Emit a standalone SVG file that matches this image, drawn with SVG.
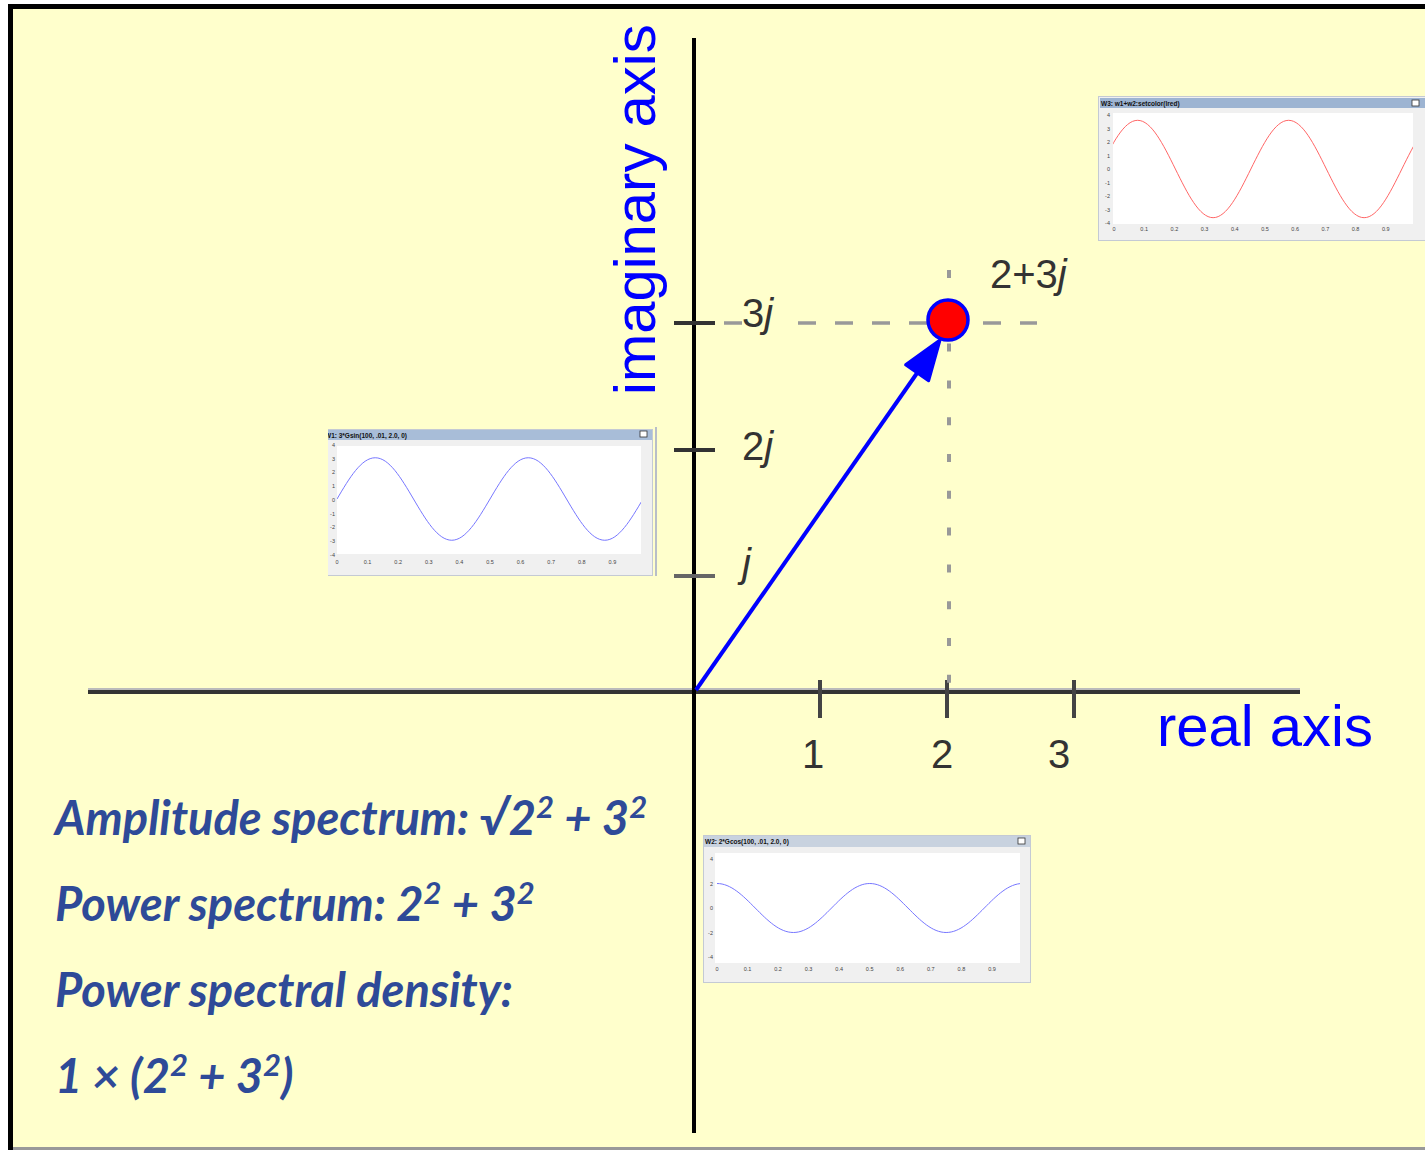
<svg xmlns="http://www.w3.org/2000/svg" width="1425" height="1150" viewBox="0 0 1425 1150">
<style>
.ax{fill:#333;font-family:"Liberation Sans",Arial,sans-serif;font-size:40px}
.blue{fill:#0000FF;font-family:"Liberation Sans",Arial,sans-serif;font-size:58px}
.eq{fill:#2E4A98;font-family:Lato,"Open Sans","DejaVu Sans",sans-serif;font-weight:bold;font-style:italic;font-size:47px}
.sup{font-size:31px}
.wt{font-family:"Liberation Sans",Arial,sans-serif;font-size:6.5px;font-weight:bold;fill:#111}
.tl{font-family:"Liberation Sans",Arial,sans-serif;font-size:5.5px;fill:#444}
.win{fill:#F0F0F0;stroke:#C4CAD4;stroke-width:1}
.plot{fill:#FFFFFF}
.tick{stroke:#444;stroke-width:4}
</style>
<defs>
<clipPath id="c3"><rect x="1113" y="113" width="300" height="111"/></clipPath>
<clipPath id="c1"><rect x="337" y="446" width="304" height="108"/></clipPath>
<clipPath id="c1w"><rect x="328" y="425" width="330" height="155"/></clipPath>
<clipPath id="c2"><rect x="715" y="853" width="305" height="110"/></clipPath>
</defs>
<rect x="0" y="0" width="1425" height="1150" fill="#FFFFFF"/>
<rect x="8" y="4" width="1417" height="1146" fill="#FFFFCC"/>
<rect x="8" y="4" width="1417" height="5" fill="#000"/>
<rect x="8" y="4" width="5" height="1146" fill="#000"/>
<rect x="13" y="1147" width="1412" height="3" fill="#999"/>

<g id="connectors">
<line x1="88" y1="689" x2="1300" y2="689" stroke="#BBB" stroke-width="2"/>
<line x1="88" y1="692" x2="1300" y2="692" stroke="#333" stroke-width="4"/>
<line x1="694" y1="38" x2="694" y2="1133" stroke="#000" stroke-width="4"/>
<line x1="820" y1="680" x2="820" y2="718" class="tick"/>
<line x1="947" y1="680" x2="947" y2="718" class="tick"/>
<line x1="1074" y1="680" x2="1074" y2="718" class="tick"/>
<line x1="674" y1="323" x2="715" y2="323" stroke="#333" stroke-width="4"/>
<line x1="674" y1="450" x2="715" y2="450" stroke="#333" stroke-width="4"/>
<line x1="674" y1="576" x2="715" y2="576" stroke="#666" stroke-width="4"/>
<line x1="724" y1="323" x2="742" y2="323" stroke="#999" stroke-width="3.5"/>
<line x1="798" y1="323" x2="1037" y2="323" stroke="#999" stroke-width="3.5" stroke-dasharray="18 19"/>
<line x1="949" y1="270" x2="949" y2="690" stroke="#999" stroke-width="4" stroke-dasharray="8 28.8"/>
<line x1="696" y1="690" x2="922" y2="366" stroke="#0000FF" stroke-width="4"/>
<polygon points="940,340 928.6,380.8 905.6,364.8" fill="#0000FF" stroke="#0000FF" stroke-width="3" stroke-linejoin="round"/>
</g>

<g id="point">
<circle cx="948" cy="320" r="20" fill="#FF0000" stroke="#0000FF" stroke-width="3.5"/>
</g>

<g id="labels">
<text class="blue" transform="translate(655,395) rotate(-90)">imaginary axis</text>
<text class="blue" x="1157" y="746">real axis</text>
<text class="ax" x="813" y="768" text-anchor="middle">1</text>
<text class="ax" x="942" y="768" text-anchor="middle">2</text>
<text class="ax" x="1059" y="768" text-anchor="middle">3</text>
<text class="ax" x="742" y="327">3<tspan font-style="italic">j</tspan></text>
<text class="ax" x="742" y="460">2<tspan font-style="italic">j</tspan></text>
<text class="ax" x="742" y="577" font-style="italic">j</text>
<text class="ax" x="990" y="288">2+3<tspan font-style="italic">j</tspan></text>
</g>

<g id="equations">
<text class="eq" x="55" y="835">Amplitude spectrum: √2<tspan class="sup" dy="-17">2</tspan><tspan dy="17"> + 3</tspan><tspan class="sup" dy="-17">2</tspan></text>
<text class="eq" x="55" y="921">Power spectrum: 2<tspan class="sup" dy="-17">2</tspan><tspan dy="17"> + 3</tspan><tspan class="sup" dy="-17">2</tspan></text>
<text class="eq" x="55" y="1007">Power spectral density:</text>
<text class="eq" x="55" y="1093">1 × (2<tspan class="sup" dy="-17">2</tspan><tspan dy="17"> + 3</tspan><tspan class="sup" dy="-17">2</tspan><tspan dy="17">)</tspan></text>
</g>

<g id="w3">
<rect class="win" x="1098.5" y="96.5" width="330" height="144"/>
<rect x="1100" y="98" width="325" height="10" fill="#9DB4D2"/>
<text class="wt" x="1101" y="105.5">W3: w1+w2:setcolor(lred)</text>
<rect x="1412" y="100" width="7" height="6" fill="#FFF" stroke="#333" stroke-width="0.8"/>
<rect class="plot" x="1113" y="113" width="300" height="111"/>
<g class="tl" text-anchor="end">
<text x="1110" y="117">4</text><text x="1110" y="130.5">3</text><text x="1110" y="144">2</text><text x="1110" y="157.5">1</text><text x="1110" y="171">0</text><text x="1110" y="184.5">-1</text><text x="1110" y="198">-2</text><text x="1110" y="211.5">-3</text><text x="1110" y="225">-4</text>
</g>
<g class="tl" text-anchor="middle">
<text x="1114" y="231">0</text><text x="1144.2" y="231">0.1</text><text x="1174.4" y="231">0.2</text><text x="1204.6" y="231">0.3</text><text x="1234.8" y="231">0.4</text><text x="1265" y="231">0.5</text><text x="1295.2" y="231">0.6</text><text x="1325.4" y="231">0.7</text><text x="1355.6" y="231">0.8</text><text x="1385.8" y="231">0.9</text>
</g>
<path clip-path="url(#c3)" fill="none" stroke="#FF6666" stroke-width="1" d="M1099.87,169 c12.30,-24.91 24.09,-48.68 37.75,-48.68 c13.66,0 25.45,23.77 37.75,48.68 c12.30,24.91 24.09,48.68 37.75,48.68 c13.66,0 25.45,-23.77 37.75,-48.68 c12.30,-24.91 24.09,-48.68 37.75,-48.68 c13.66,0 25.45,23.77 37.75,48.68 c12.30,24.91 24.09,48.68 37.75,48.68 c13.66,0 25.45,-23.77 37.75,-48.68 c12.30,-24.91 24.09,-48.68 37.75,-48.68"/>
</g>

<g id="w1">
<g clip-path="url(#c1w)">
<rect class="win" x="326.5" y="429.5" width="326" height="146"/>
<rect x="326" y="430" width="326" height="10" fill="#A8BDD8"/>
<text class="wt" x="325" y="437.5">W1: 3*Gsin(100, .01, 2.0, 0)</text>
</g>
<line x1="656" y1="427" x2="656" y2="576" stroke="#B8BEC8" stroke-width="2"/>
<rect x="640" y="431" width="7" height="6" fill="#FFF" stroke="#333" stroke-width="0.8"/>
<rect class="plot" x="337" y="446" width="304" height="108"/>
<g class="tl" text-anchor="end">
<text x="335" y="447">4</text><text x="335" y="460.7">3</text><text x="335" y="474.4">2</text><text x="335" y="488.1">1</text><text x="335" y="501.8">0</text><text x="335" y="515.5">-1</text><text x="335" y="529.2">-2</text><text x="335" y="542.9">-3</text><text x="335" y="556.6">-4</text>
</g>
<g class="tl" text-anchor="middle">
<text x="337" y="564">0</text><text x="367.6" y="564">0.1</text><text x="398.2" y="564">0.2</text><text x="428.8" y="564">0.3</text><text x="459.4" y="564">0.4</text><text x="490" y="564">0.5</text><text x="520.6" y="564">0.6</text><text x="551.2" y="564">0.7</text><text x="581.8" y="564">0.8</text><text x="612.4" y="564">0.9</text>
</g>
<path clip-path="url(#c1)" fill="none" stroke="#7777FF" stroke-width="1" d="M337,499 c12.46,-21.11 24.41,-41.25 38.25,-41.25 c13.84,0 25.79,20.14 38.25,41.25 c12.46,21.11 24.41,41.25 38.25,41.25 c13.84,0 25.79,-20.14 38.250,-41.25 c12.46,-21.11 24.41,-41.25 38.25,-41.25 c13.84,0 25.79,20.14 38.25,41.25 c12.46,21.11 24.41,41.25 38.25,41.25 c13.84,0 25.79,-20.14 38.25,-41.25"/>
</g>

<g id="w2">
<rect class="win" x="703.5" y="835.5" width="327" height="147"/>
<rect x="704" y="836" width="326" height="11" fill="#C8D2DF"/>
<text class="wt" x="705" y="844">W2: 2*Gcos(100, .01, 2.0, 0)</text>
<rect x="1018" y="838" width="7" height="6" fill="#FFF" stroke="#333" stroke-width="0.8"/>
<rect class="plot" x="715" y="853" width="305" height="110"/>
<g class="tl" text-anchor="end">
<text x="713" y="861">4</text><text x="713" y="885.5">2</text><text x="713" y="910">0</text><text x="713" y="934.5">-2</text><text x="713" y="959">-4</text>
</g>
<g class="tl" text-anchor="middle">
<text x="717" y="971">0</text><text x="747.5" y="971">0.1</text><text x="778.1" y="971">0.2</text><text x="808.6" y="971">0.3</text><text x="839.2" y="971">0.4</text><text x="869.7" y="971">0.5</text><text x="900.3" y="971">0.6</text><text x="930.8" y="971">0.7</text><text x="961.4" y="971">0.8</text><text x="992" y="971">0.9</text>
</g>
<path clip-path="url(#c2)" fill="none" stroke="#7777FF" stroke-width="1" d="M717,883.5 c13.82,0 25.75,11.96 38.19,24.5 c12.44,12.54 24.37,24.5 38.19,24.5 c13.82,0 25.75,-11.96 38.19,-24.5 c12.44,-12.54 24.37,-24.5 38.19,-24.5 c13.82,0 25.75,11.96 38.19,24.5 c12.44,12.54 24.37,24.5 38.19,24.5 c13.82,0 25.75,-11.96 38.19,-24.5 c12.44,-12.54 24.37,-24.5 38.19,-24.5"/>
</g>
</svg>
